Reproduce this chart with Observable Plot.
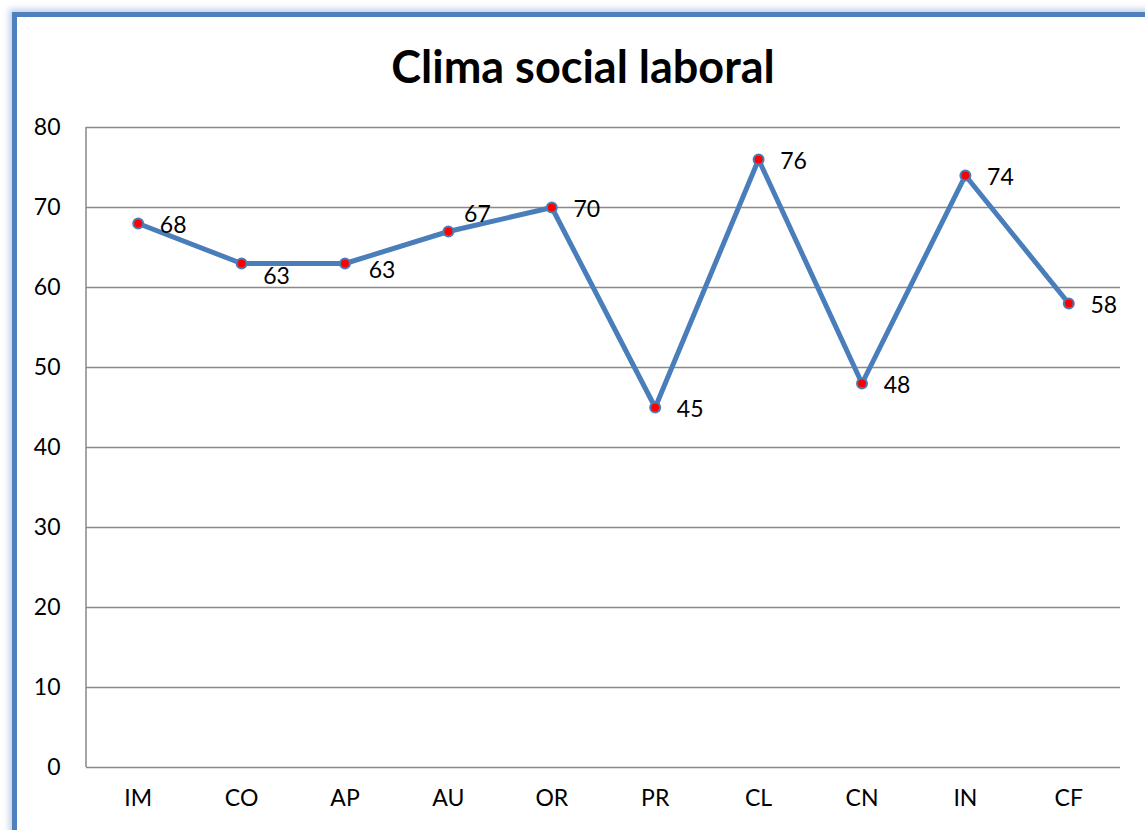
<!DOCTYPE html>
<html>
<head>
<meta charset="utf-8">
<script src="https://cdn.jsdelivr.net/npm/d3@7"></script>
<script src="https://cdn.jsdelivr.net/npm/@observablehq/plot@0.6"></script>
<style>
  html, body { margin: 0; padding: 0; background: #fff; overflow: hidden; }
  #page { position: relative; width: 1145px; height: 830px; }
  #frame {
    position: absolute; left: 12px; top: 12px; width: 1200px; height: 900px;
    border-left: 5px solid #4f81bd; border-top: 5px solid #4f81bd;
    box-shadow: -3px -3px 6px rgba(79,129,189,0.35);
  }
  #title {
    position: absolute; left: 0; top: 36px; width: 1166px; text-align: center;
    font-family: Lato, "Open Sans", sans-serif; font-weight: bold; font-size: 45px; color: #000;
    line-height: 60px;
  }
  #chart { position: absolute; left: 0; top: 100px; }
</style>
</head>
<body>
<div id="page">
  <div id="frame"></div>
  <div id="title">Clima social laboral</div>
  <div id="chart"></div>
</div>
<script>
const categories = ["IM", "CO", "AP", "AU", "OR", "PR", "CL", "CN", "IN", "CF"];
const values = [68, 63, 63, 67, 70, 45, 76, 48, 74, 58];
const yTicks = [0, 10, 20, 30, 40, 50, 60, 70, 80];

// label nudges (pixels) for each data label
const labelNudge = {
  IM: [35, 2], CO: [35, 13], AP: [37, 7], AU: [29, -17], OR: [35, 2],
  PR: [35, 2], CL: [35, 2], CN: [35, 2], IN: [35, 2], CF: [35, 2]
};

const data = categories.map((c, i) => ({cat: c, value: values[i]}));
const lineColor = "#4a7ebb";
const font = "Lato, 'Open Sans', sans-serif";

const labelMarks = data.map(d => Plot.text([d], {
  x: "cat", y: "value", text: d => String(d.value),
  dx: labelNudge[d.cat][0], dy: labelNudge[d.cat][1],
  fontSize: 23, fill: "#000", textAnchor: "middle"
}));

const chart = Plot.plot({
  width: 1145,
  height: 730,
  marginLeft: 86,
  marginRight: 25,
  marginTop: 27,
  marginBottom: 63,
  style: {fontFamily: font, fontSize: "23px", color: "#000", background: "transparent"},
  x: {type: "point", domain: categories, padding: 0.5, round: false, label: null},
  y: {domain: [0, 80], ticks: yTicks, label: null},
  marks: [
    Plot.ruleY(yTicks, {stroke: "#898989", strokeWidth: 1.5}),
    Plot.axisY({ticks: yTicks, tickSize: 0, tickPadding: 26, fontSize: 23, label: null}),
    Plot.axisX({tickSize: 0, tickPadding: 22, fontSize: 23, label: null}),
    Plot.line(data, {x: "cat", y: "value", stroke: lineColor, strokeWidth: 5, strokeLinejoin: "round", strokeLinecap: "round"}),
    Plot.dot(data, {x: "cat", y: "value", r: 5, fill: "#ff0000", stroke: lineColor, strokeWidth: 2}),
    ...labelMarks
  ]
});

document.getElementById("chart").appendChild(chart);
const svg = d3.select(chart);
svg.append("line")
  .attr("x1", 86).attr("x2", 86).attr("y1", 27).attr("y2", 730 - 63)
  .attr("stroke", "#898989").attr("stroke-width", 1.5);
</script>
</body>
</html>
